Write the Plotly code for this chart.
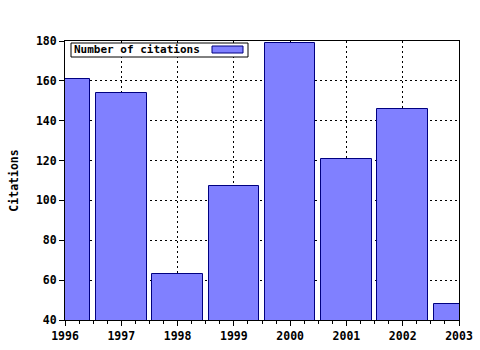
import plotly.graph_objects as go

years = [1996, 1997, 1998, 1999, 2000, 2001, 2002, 2003]
citations = [161, 154, 63, 107, 179, 121, 146, 48]
series_name = "Number of citations"
y_title = "Citations"

FONT = "DejaVu Sans Mono"
L, R, T, B = 65, 21, 41, 30
W, H = 480, 350
pw, ph = W - L - R, H - T - B

def px(x):
    return (x - L) / pw

def py(y):
    return (H - B - y) / ph

fig = go.Figure()
fig.add_trace(go.Bar(
    x=years, y=citations, width=0.9, name=series_name,
    marker=dict(color="#8080ff", line=dict(color="#000080", width=1)),
    showlegend=False,
))

axis_common = dict(
    showline=True, linecolor="black", linewidth=1, mirror=True,
    showgrid=True, gridcolor="black", gridwidth=1, griddash="2px,3px",
    ticks="outside", ticklen=5, tickcolor="black", zeroline=False, automargin=False,
    tickfont=dict(family=FONT, size=11.5, color="black", weight="bold"),
)

fig.update_xaxes(range=[1996, 2003], tickvals=years, ticktext=[str(y) for y in years],
                 minor=dict(dtick=0.25, tick0=1996, ticks="outside", ticklen=3, tickcolor="black", showgrid=False),
                 **axis_common)
fig.update_yaxes(range=[40, 180], dtick=20, tick0=40,
                 title=dict(text=y_title, font=dict(family=FONT, size=11.5, color="black", weight="bold"), standoff=14),
                 **axis_common)

# Legend box (drawn manually to place swatch on the right)
fig.add_shape(type="rect", xref="paper", yref="paper", x0=px(71), x1=px(248), y0=py(57), y1=py(43),
              line=dict(color="black", width=1), fillcolor="white", layer="above")
fig.add_shape(type="rect", xref="paper", yref="paper", x0=px(212), x1=px(243), y0=py(53), y1=py(46),
              line=dict(color="#000080", width=1), fillcolor="#8080ff", layer="above")
fig.add_annotation(xref="paper", yref="paper", x=px(72), y=py(50), text=series_name, showarrow=False,
                   xanchor="left", yanchor="middle",
                   font=dict(family=FONT, size=11, color="black", weight="bold"))

fig.update_layout(
    width=W, height=H, margin=dict(l=L, r=R, t=T, b=B),
    paper_bgcolor="white", plot_bgcolor="white", bargap=0,
)
fig.write_html("out.html")
